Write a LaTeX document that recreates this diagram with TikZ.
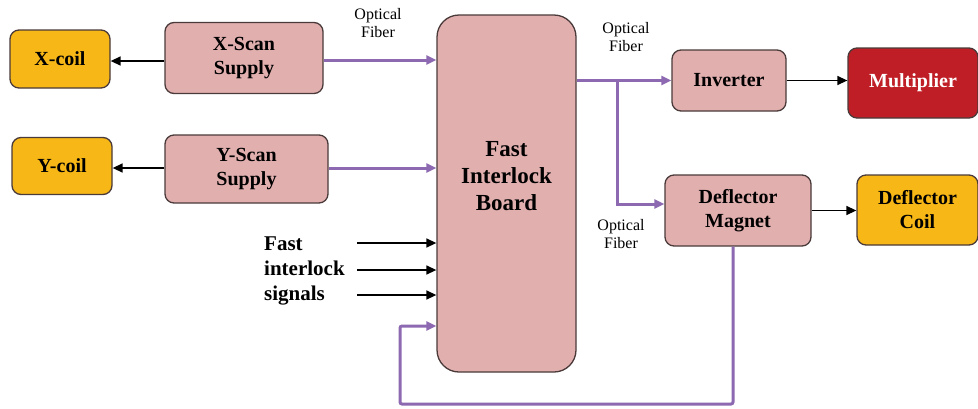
\documentclass[tikz,border=0pt]{standalone}
\usepackage{fontspec}
\setmainfont{Liberation Serif}
\newfontfamily\tnr{Liberation Serif}
\usetikzlibrary{arrows.meta}
\definecolor{pinkf}{HTML}{E2AFAF}
\definecolor{orangef}{HTML}{F7B716}
\definecolor{redf}{HTML}{C01E26}
\definecolor{purp}{HTML}{8C69B0}
\definecolor{edge}{HTML}{4A3A3A}
\begin{document}
\begin{tikzpicture}[x=1pt,y=-1pt,
  box/.style={draw=edge,line width=1.3pt,rounded corners=9pt,font=\tnr\fontsize{20}{24}\selectfont\bfseries,align=center,inner sep=0pt},
  pinkbox/.style={box,fill=pinkf},
  orbox/.style={box,fill=orangef},
  blk/.style={-{Triangle[length=10pt,width=9pt]},line width=1.4pt,black},
  fib/.style={-{Triangle[length=10pt,width=9pt]},line width=3pt,purp},
  lbl/.style={font=\tnr\fontsize{16}{18}\selectfont,align=center,inner sep=0pt}]
\useasboundingbox (0,0) rectangle (978,408);
\node[orbox,minimum width=100pt,minimum height=58pt] (xc) at (60,59) {X-coil};
\node[orbox,minimum width=100pt,minimum height=57pt] (yc) at (62,166) {Y-coil};
\node[pinkbox,minimum width=158pt,minimum height=71pt] (xs) at (244,58) {X-Scan\\Supply};
\node[pinkbox,minimum width=163pt,minimum height=68pt] (ys) at (246.5,169) {Y-Scan\\Supply};
\node[pinkbox,rounded corners=22pt,minimum width=139pt,minimum height=357pt] (fb) at (506.5,193.5) {};
\node[font=\tnr\fontsize{23}{27}\selectfont\bfseries,align=center] (fbt) at (506.5,176) {Fast\\Interlock\\Board};
\node[pinkbox,minimum width=114pt,minimum height=61pt] (inv) at (729,80.5) {Inverter};
\node[box,fill=redf,text=white,minimum width=130pt,minimum height=70pt] (mul) at (913,83) {Multiplier};
\node[pinkbox,minimum width=146pt,minimum height=71pt] (dm) at (738,210.5) {Deflector\\Magnet};
\node[orbox,minimum width=121pt,minimum height=70pt] (dc) at (917.5,210) {Deflector\\Coil};
% labels
\node[lbl] (of1) at (378,23) {Optical\\Fiber};
\node[lbl] (of2) at (626,37) {Optical\\Fiber};
\node[lbl] (of3) at (621,234) {Optical\\Fiber};
\node[font=\tnr\fontsize{21}{25}\selectfont\bfseries,align=left,anchor=west,inner sep=0pt] (fis) at (264,271) {Fast\\interlock\\signals};
% black arrows
\draw[blk] (xs.west |- 0,61) -- (xc.east |- 0,61);
\draw[blk] (ys.west |- 0,168) -- (yc.east |- 0,168);
\draw[blk] (inv.east) -- (mul.west |- inv.east);
\draw[blk] (dm.east) -- (dc.west |- dm.east);
\coordinate (s1) at (357,243);
\coordinate (s2) at (357,270);
\coordinate (s3) at (357,295);
\draw[blk] (s1) -- (fb.west |- s1);
\draw[blk] (s2) -- (fb.west |- s2);
\draw[blk] (s3) -- (fb.west |- s3);
% fibers
\draw[fib] (xs.east |- 0,60) -- (fb.west |- 0,60);
\draw[fib] (ys.east |- 0,168) -- (fb.west |- 0,168);
\draw[fib] (fb.east |- inv.west) -- (inv.west);
\coordinate (br) at (617,80.5);
\draw[fib] (br) |- (dm.west |- 0,204);
\coordinate (fa) at (733,404);
\coordinate (fb2) at (400,404);
\coordinate (fc) at (400,326);
\draw[fib,rounded corners=2pt] (dm.south -| fa) -- (fa) -- (fb2) -- (fc) -- (fb.west |- fc);
\end{tikzpicture}
\end{document}
